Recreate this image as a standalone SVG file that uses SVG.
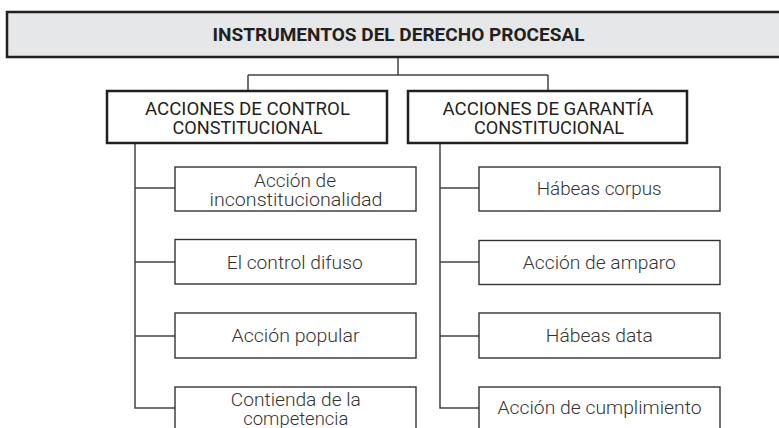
<svg xmlns="http://www.w3.org/2000/svg" width="779" height="428" viewBox="0 0 779 428">
  <style>
    .hdr { fill: #e6e7e8; stroke: #231f20; stroke-width: 2.5; }
    .lvl2 { fill: #ffffff; stroke: #231f20; stroke-width: 2.5; }
    .leaf { fill: #ffffff; stroke: #333333; stroke-width: 1.4; }
    .conn { fill: none; stroke: #444444; stroke-width: 1.5; }
    text { font-family: Roboto, "Liberation Sans", sans-serif; text-anchor: middle; }
    .t-hdr { font-size: 19px; font-weight: bold; fill: #231f20; }
    .t-l2 { font-size: 19px; fill: #231f20; }
    .t-leaf { font-size: 18px; font-weight: 300; fill: #333333; }
  </style>

  <g id="connectors">
    <path class="conn" d="M398 57 V75 M248 75 H548 M248 75 V91 M548 75 V91"/>
    <path class="conn" d="M135 143 V408 H175 M135 188 H175 M135 262 H175 M135 336 H175"/>
    <path class="conn" d="M440 143 V408 H479 M440 188 H479 M440 262 H479 M440 336 H479"/>
  </g>

  <g id="root">
    <rect class="hdr" x="7" y="12" width="790" height="45"/>
    <text class="t-hdr" x="398.5" y="40.7" textLength="372" lengthAdjust="spacingAndGlyphs">INSTRUMENTOS DEL DERECHO PROCESAL</text>
  </g>

  <g id="control">
    <rect class="lvl2" x="107" y="91" width="280" height="52"/>
    <text class="t-l2" x="247.5" y="115" textLength="205" lengthAdjust="spacingAndGlyphs">ACCIONES DE CONTROL</text>
    <text class="t-l2" x="247.5" y="134" textLength="150" lengthAdjust="spacingAndGlyphs">CONSTITUCIONAL</text>
  </g>

  <g id="garantia">
    <rect class="lvl2" x="408" y="91" width="279" height="52"/>
    <text class="t-l2" x="548" y="114.5" textLength="211" lengthAdjust="spacingAndGlyphs">ACCIONES DE GARANTÍA</text>
    <text class="t-l2" x="549" y="134" textLength="150" lengthAdjust="spacingAndGlyphs">CONSTITUCIONAL</text>
  </g>

  <g id="inconstitucionalidad">
    <rect class="leaf" x="175" y="167" width="241" height="44"/>
    <text class="t-leaf" x="295" y="187" textLength="82" lengthAdjust="spacingAndGlyphs">Acción de</text>
    <text class="t-leaf" x="296" y="205.7" textLength="173" lengthAdjust="spacingAndGlyphs">inconstitucionalidad</text>
  </g>

  <g id="difuso">
    <rect class="leaf" x="175" y="239.5" width="241" height="44.5"/>
    <text class="t-leaf" x="294.7" y="268.5" textLength="136" lengthAdjust="spacingAndGlyphs">El control difuso</text>
  </g>

  <g id="popular">
    <rect class="leaf" x="175" y="313" width="241" height="45"/>
    <text class="t-leaf" x="295.5" y="342" textLength="128" lengthAdjust="spacingAndGlyphs">Acción popular</text>
  </g>

  <g id="competencia">
    <rect class="leaf" x="175" y="387" width="241" height="45"/>
    <text class="t-leaf" x="295.8" y="406" textLength="130" lengthAdjust="spacingAndGlyphs">Contienda de la</text>
    <text class="t-leaf" x="295.8" y="424.5" textLength="105" lengthAdjust="spacingAndGlyphs">competencia</text>
  </g>

  <g id="habeas-corpus">
    <rect class="leaf" x="479" y="167" width="241" height="44"/>
    <text class="t-leaf" x="599.2" y="195" textLength="125" lengthAdjust="spacingAndGlyphs">Hábeas corpus</text>
  </g>

  <g id="amparo">
    <rect class="leaf" x="479" y="240.5" width="241" height="44"/>
    <text class="t-leaf" x="599.3" y="268.5" textLength="153" lengthAdjust="spacingAndGlyphs">Acción de amparo</text>
  </g>

  <g id="habeas-data">
    <rect class="leaf" x="479" y="313" width="241" height="45"/>
    <text class="t-leaf" x="599.3" y="342" textLength="107" lengthAdjust="spacingAndGlyphs">Hábeas data</text>
  </g>

  <g id="cumplimiento">
    <rect class="leaf" x="479" y="387" width="241" height="45"/>
    <text class="t-leaf" x="599.5" y="413.5" textLength="204" lengthAdjust="spacingAndGlyphs">Acción de cumplimiento</text>
  </g>
</svg>
